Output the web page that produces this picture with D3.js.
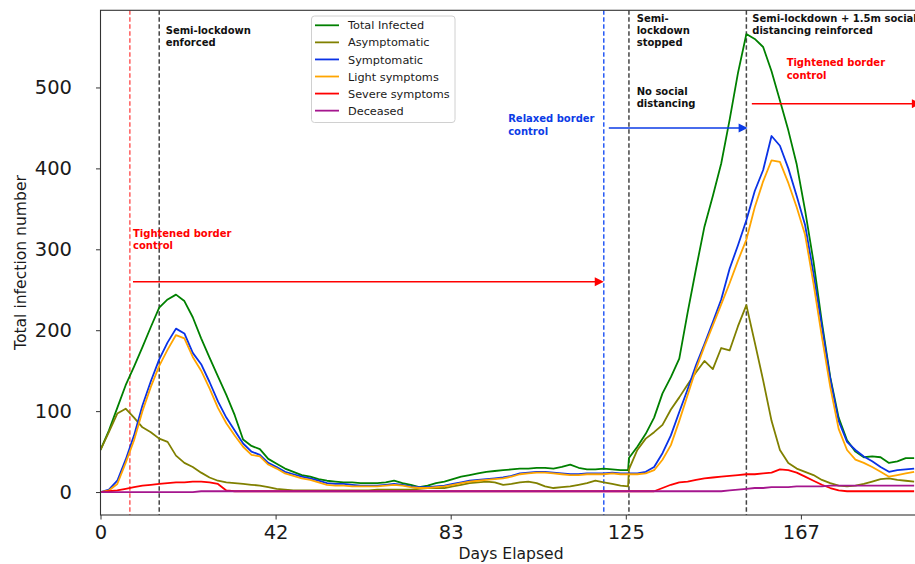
<!DOCTYPE html>
<html><head><meta charset="utf-8">
<script src="https://cdn.jsdelivr.net/npm/d3@7"></script>
<style>body{margin:0;background:#fff;} svg{display:block;font-family:"DejaVu Sans",sans-serif;}</style>
</head><body><svg id="chart" width="915" height="564"></svg>
<script>
// ---------- DATA ----------
const days = [0,2,4,6,8,10,12,14,16,18,20,22,24,26,28,30,32,34,36,38,40,42,44,46,48,50,52,54,56,58,
  60,62,64,66,68,70,72,74,76,78,80,82,84,86,88,90,92,94,96,98,100,102,104,106,108,110,112,114,116,118,
  120,122,124,125.8,126,128,130,132,134,136,138,140,142,144,146,148,150,152,154,156,158,160,162,164,166,168,
  170,172,174,176,178,180,182,184,186,188,190,192,194];

const totalInfected = [52,76,104,132,155,179,204,228,238,244,
  236,216,190,166,143,120,95,65,57,53,
  41,35,29,25,21,19,16,14,13,12,
  12,11,11,11,12,14,11,9,6,8,
  11,13,16,19,21,23,25,26,27,28,
  29,29,30,30,29,31,34,30,28,28,
  29,28,27,27,42,56,72,92,122,142,
  165,222,276,328,366,406,460,518,566,560,
  550,520,484,447,405,348,285,210,142,92,
  64,50,43,44,43,36,38,42,42];

const asymptomatic = [52,74,97,103,92,80,74,66,62,45,
  36,31,24,18,14,12,11,10,9,8,
  6,4,3,2,2,2,2,2,2,2,
  2,2,2,3,3,3,3,3,4,5,
  5,5,7,9,11,12,13,12,9,10,
  12,13,11,7,5,6,7,9,11,14,
  12,10,8,7,28,52,66,74,83,102,
  117,133,148,162,152,178,175,205,231,185,
  138,88,52,36,29,25,21,15,11,8,
  7,8,10,13,16,17,15,14,13];

const symptomatic = [0,3,14,40,70,107,137,164,185,202,
  196,172,158,136,112,92,76,60,50,46,
  36,31,25,22,19,17,14,11,10,10,
  9,8,8,8,9,10,9,7,6,6,
  7,8,10,12,14,15,16,17,18,20,
  23,24,25,25,24,23,22,22,23,23,
  23,24,23,23,23,23,25,31,48,70,
  99,127,157,183,210,238,276,305,336,372,
  398,440,428,400,366,330,270,205,140,88,
  62,52,44,38,31,25,27,28,29];

const lightSymptoms = [0,2,10,36,64,100,130,156,176,194,
  190,167,150,128,104,85,70,56,46,44,
  34,29,23,20,17,15,12,9,8,8,
  7,7,7,7,8,9,8,6,5,5,
  6,7,9,11,13,14,15,16,17,19,
  22,23,24,24,23,22,21,21,22,22,
  22,23,22,22,22,22,23,27,40,58,
  88,120,152,180,206,232,258,286,312,352,
  384,410,408,382,352,318,258,192,130,78,
  52,40,36,31,25,19,21,23,25];

const severeSymptoms = [0,1,2,4,6,8,9,10,11,12,
  12,13,13,12,10,2,1,1,1,1,
  1,1,1,1,1,1,1,1,1,1,
  1,1,1,1,1,1,1,1,1,1,
  1,1,1,1,1,1,1,1,1,1,
  1,1,1,1,1,1,1,1,1,1,
  1,1,1,1,1,1,1,1,5,9,
  12,13,15,17,18,19,20,21,22,22,
  23,24,28,27,24,19,14,9,5,2,
  1,1,1,1,1,1,1,1,1];

const deceased = [0,0,0,0,0,0,0,0,0,0,
  0,0,1,1,1,1,1,1,1,1,
  1,1,1,1,1,1,1,1,1,1,
  1,1,1,1,1,1,1,1,1,1,
  1,1,1,1,1,1,1,1,1,1,
  1,1,1,1,1,1,1,1,1,1,
  1,1,1,1,1,1,1,1,1,1,
  1,1,1,1,1,1,2,3,4,5,
  5,6,6,6,7,7,7,7,8,8,
  8,8,8,8,8,8,8,8,8];

const seriesNames = ["Total Infected","Asymptomatic","Symptomatic","Light symptoms","Severe symptoms","Deceased"];
const seriesValues = [totalInfected, asymptomatic, symptomatic, lightSymptoms, severeSymptoms, deceased];
const seriesColors = ["#008000","#808000","#0a32e6","#ffa500","#ff0000","#a5168e"];

const xTickValues = [0, 41.75, 83.5, 125.25, 167];
const xTickLabels = ["0","42","83","125","167"];
const yTickValues = [0,100,200,300,400,500];

const eventDays   = [7, 14, 120, 126, 154];
const eventColors = ["#ff5c5c", "#444444", "#2a5cf5", "#444444", "#444444"];

const arrowFrom   = [7.75, 121.2, 155.3];
const arrowTo     = [120, 154.3, 195.6];
const arrowValue  = [260, 450, 480];
const arrowColors = ["#ff0000", "#0b3be6", "#ff0000"];

const noteText  = [["Semi-lockdown","enforced"], ["Tightened border","control"], ["Relaxed border","control"],
  ["Semi-","lockdown","stopped"], ["No social","distancing"], ["Semi-lockdown + 1.5m social","distancing reinforced"],
  ["Tightened border","control"]];
const noteDay   = [15.55, 7.75, 97.2, 127.85, 127.85, 155.4, 163.6];
const noteValue = [566, 315, 457, 581.4, 490.7, 581.4, 526];
const noteColors = ["#111111","#ff0000","#0b3be6","#111111","#111111","#111111","#ff0000"];

// ---------- LAYOUT ----------
(function draw() {
const svg = d3.select("#chart");
const pL = 100.5, pR = 939.3, pT = 10.3, pB = 515;
const x = d3.scaleLinear().domain([0, 200]).range([pL, pR]);
const y = d3.scaleLinear().domain([-28.35, 595.35]).range([pB, pT]);

svg.append("defs").append("clipPath").attr("id","plotclip")
  .append("rect").attr("x", pL).attr("y", pT).attr("width", pR-pL).attr("height", pB-pT);

const plot = svg.append("g").attr("clip-path","url(#plotclip)");

plot.selectAll("line.ev").data(eventDays).join("line")
  .attr("class","ev")
  .attr("x1", d => x(d)).attr("x2", d => x(d))
  .attr("y1", pT).attr("y2", pB)
  .attr("stroke", (d,i) => eventColors[i]).attr("stroke-width", 1.5)
  .attr("stroke-dasharray", "4.5,2.5");

const line = d3.line().x((d,i) => x(days[i])).y(d => y(d));
seriesValues.forEach((vals, k) => {
  plot.append("path").datum(vals)
    .attr("d", line).attr("fill","none")
    .attr("stroke", seriesColors[k]).attr("stroke-width", 1.8)
    .attr("stroke-linejoin","round");
});

arrowFrom.forEach((f, i) => {
  const x1 = x(f), x2 = x(arrowTo[i]), yy = y(arrowValue[i]);
  const hl = 9, hw = 4.5;
  plot.append("line").attr("x1", x1).attr("x2", x2 - hl + 1).attr("y1", yy).attr("y2", yy)
    .attr("stroke", arrowColors[i]).attr("stroke-width", 1.5);
  plot.append("path").attr("d", `M${x2},${yy}L${x2-hl},${yy-hw}L${x2-hl},${yy+hw}Z`)
    .attr("fill", arrowColors[i]);
});

noteText.forEach((lines, i) => {
  const t = plot.append("text").attr("x", x(noteDay[i])).attr("y", y(noteValue[i]))
    .attr("fill", noteColors[i]).attr("font-size", "10px").attr("font-weight", "bold");
  lines.forEach((s, j) => {
    t.append("tspan").attr("x", x(noteDay[i])).attr("dy", j === 0 ? 0 : 12.3).text(s);
  });
});

const yAxis = d3.axisLeft(y).tickValues(yTickValues).tickSize(4.5).tickPadding(24);
const gy = svg.append("g").attr("transform", `translate(${pL},0)`).call(yAxis);
const xAxis = d3.axisBottom(x).tickValues(xTickValues).tickFormat((d,i) => xTickLabels[i]).tickSize(4.5).tickPadding(5.5);
const gx = svg.append("g").attr("transform", `translate(0,${pB})`).call(xAxis);
[gx, gy].forEach(g => {
  g.select(".domain").remove();
  g.selectAll(".tick line").attr("stroke", "#333").attr("stroke-width", 1);
  g.selectAll(".tick text").attr("fill", "#1a1a1a").attr("font-size", "19.5px")
    .attr("font-family", "DejaVu Sans, sans-serif");
});

svg.append("rect").attr("x", pL).attr("y", pT).attr("width", pR-pL).attr("height", pB-pT)
  .attr("fill","none").attr("stroke","#333").attr("stroke-width", 1.1);

svg.append("text").attr("x", 511).attr("y", 558.5).attr("text-anchor","middle")
  .attr("font-size","15.6px").attr("fill","#1a1a1a").text("Days Elapsed");
svg.append("text").attr("transform", "translate(25.5,262.5) rotate(-90)").attr("text-anchor","middle")
  .attr("font-size","15.6px").attr("fill","#1a1a1a").text("Total infection number");

const lg = svg.append("g");
lg.append("rect").attr("x", 311.5).attr("y", 16).attr("width", 143.5).attr("height", 106.5)
  .attr("rx", 3).attr("fill", "white").attr("fill-opacity", 0.85).attr("stroke", "#d0d0d0");
seriesNames.forEach((name, i) => {
  const cy = 25.3 + i * 17.07;
  lg.append("line").attr("x1", 315).attr("x2", 339).attr("y1", cy).attr("y2", cy)
    .attr("stroke", seriesColors[i]).attr("stroke-width", 1.8);
  lg.append("text").attr("x", 348).attr("y", cy + 4.1).attr("font-size", "11.3px")
    .attr("fill", "#1a1a1a").text(name);
});
})();
</script></body></html>
